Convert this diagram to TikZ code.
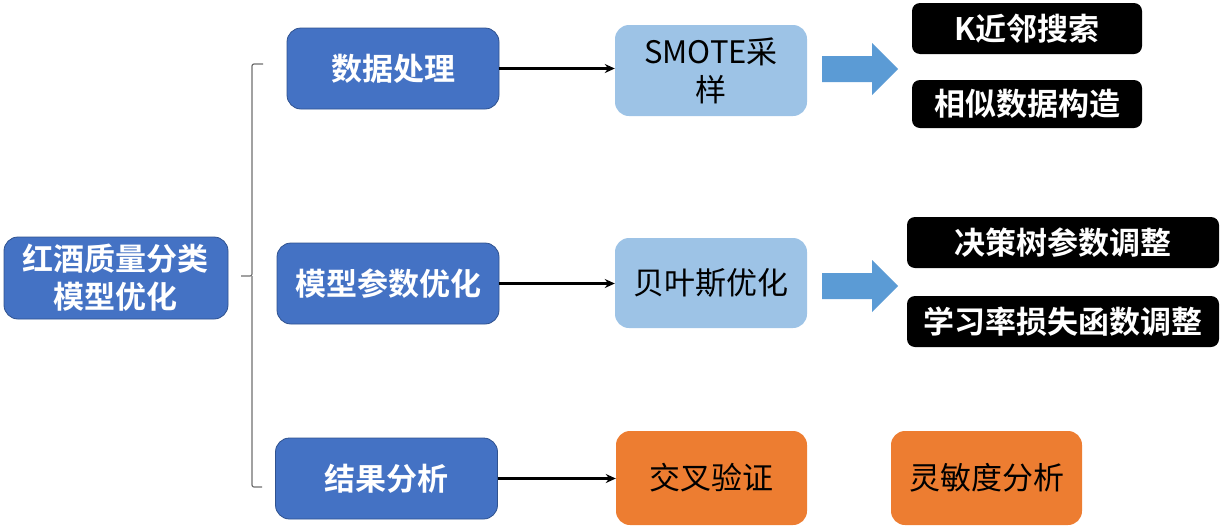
\documentclass[tikz,border=0pt]{standalone}
\usepackage{fontspec}
\usetikzlibrary{arrows.meta}
\newfontfamily\cjk{Noto Sans CJK SC}
\newfontfamily\cjkb{Noto Sans CJK SC Bold}
\definecolor{mblue}{HTML}{4472C4}
\definecolor{mborder}{HTML}{2F528F}
\definecolor{lblue}{HTML}{9DC3E6}
\definecolor{aroblue}{HTML}{5B9BD5}
\definecolor{morange}{HTML}{ED7D31}
\definecolor{brgray}{HTML}{6F6F6F}
\begin{document}
\begin{tikzpicture}[x=1pt,y=1pt,
  base/.style={inner sep=0pt, align=center},
  bluebox/.style={base, fill=mblue, draw=mborder, line width=0.8pt, rounded corners=14pt, text=white, font=\cjkb\fontsize{31}{38}\selectfont},
  lbbox/.style={base, fill=lblue, rounded corners=14pt, text=black, font=\cjk\fontsize{31}{38}\selectfont},
  orbox/.style={base, fill=morange, rounded corners=14pt, text=black, font=\cjk\fontsize{31}{38}\selectfont},
  blkbox/.style={base, fill=black, rounded corners=8pt, text=white, font=\cjkb\fontsize{31}{38}\selectfont},
  conn/.style={-{Stealth[length=10pt,width=9pt]}, line width=3pt, black},
  blockarrow/.style={fill=aroblue},
  bracket/.style={draw=brgray, line width=1.2pt, rounded corners=2pt}
]
\useasboundingbox (0,0) rectangle (1227,-528);

\node[bluebox, minimum width=224pt, minimum height=82pt] (root) at (116,-278) {红酒质量分类\\模型优化};
\node[bluebox, minimum width=212pt, minimum height=81pt] (dp) at (393,-68.5) {数据处理};
\node[bluebox, minimum width=222pt, minimum height=81pt] (mp) at (388,-283.5) {模型参数优化};
\node[bluebox, minimum width=222pt, minimum height=81pt] (ra) at (386.5,-478.5) {结果分析};

\node[lbbox, minimum width=192pt, minimum height=91pt] (smote) at (711,-70.5) {SMOTE采\\样};
\node[lbbox, minimum width=192pt, minimum height=90pt] (bayes) at (711,-283) {贝叶斯优化};
\node[orbox, minimum width=191pt, minimum height=94pt] (cv) at (711.5,-478) {交叉验证};
\node[orbox, minimum width=191pt, minimum height=94pt] (sa) at (986.5,-478) {灵敏度分析};

\node[blkbox, minimum width=230pt, minimum height=51pt] (knn) at (1027,-28.5) {K近邻搜索};
\node[blkbox, minimum width=230pt, minimum height=48pt] (sim) at (1027,-104) {相似数据构造};
\node[blkbox, minimum width=312pt, minimum height=51pt] (dt) at (1063,-242.5) {决策树参数调整};
\node[blkbox, minimum width=312pt, minimum height=51pt] (lr) at (1063,-321.5) {学习率损失函数调整};

\draw[conn] (dp.east) -- (dp.east -| smote.west);
\draw[conn] (mp.east) -- (mp.east -| bayes.west);
\draw[conn] (ra.east) -- (ra.east -| cv.west);

% block arrows
\fill[blockarrow] (822,-56) -- (872,-56) -- (872,-43) -- (898,-69) -- (872,-95) -- (872,-82) -- (822,-82) -- cycle;
\fill[blockarrow] (822,-273) -- (872,-273) -- (872,-260) -- (898,-286) -- (872,-312) -- (872,-299) -- (822,-299) -- cycle;

% bracket
\coordinate (btop) at (263,-64);
\coordinate (bmid) at (252,-276);
\coordinate (btip) at (241,-276);
\coordinate (bbot) at (262,-487);
\draw[bracket] (btop) -| (bmid) -- (btip);
\draw[bracket] (bmid) |- (bbot);
\end{tikzpicture}
\end{document}
